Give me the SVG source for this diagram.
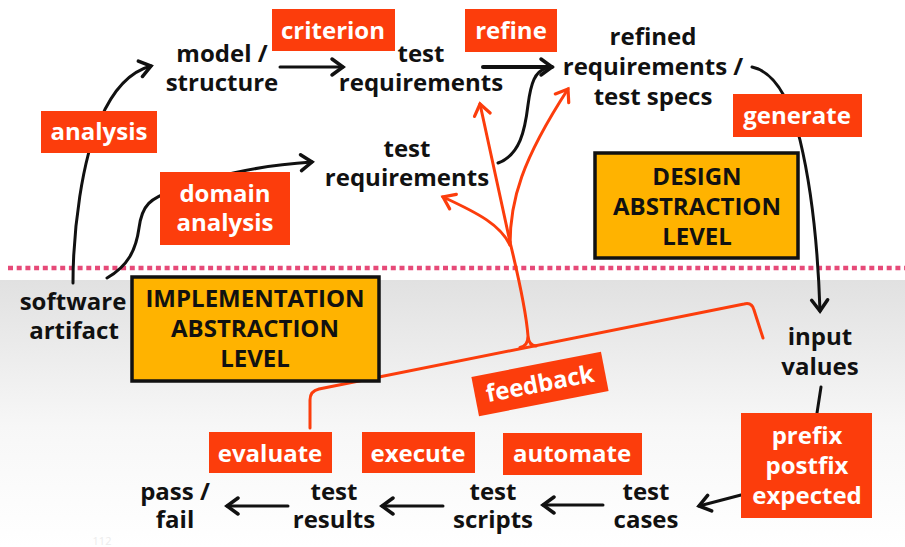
<svg xmlns="http://www.w3.org/2000/svg" width="905" height="547" viewBox="0 0 905 547">
<defs>
<linearGradient id="gray" x1="0" y1="0" x2="0" y2="1">
<stop offset="0" stop-color="#e1e1e1"/>
<stop offset="0.55" stop-color="#f7f7f7"/>
<stop offset="1" stop-color="#ffffff"/>
</linearGradient>
<marker id="ab" markerUnits="userSpaceOnUse" viewBox="-14 -11 17 22" refX="0" refY="0" markerWidth="17" markerHeight="22" orient="auto">
<path d="M-11,-8 L0,0 L-11,8" fill="none" stroke="#111" stroke-width="3.5" stroke-linecap="round"/>
</marker>
<marker id="ar" markerUnits="userSpaceOnUse" viewBox="-14 -11 17 22" refX="0" refY="0" markerWidth="17" markerHeight="22" orient="auto">
<path d="M-11,-8 L0,0 L-11,8" fill="none" stroke="#fc3d0c" stroke-width="3.2" stroke-linecap="round"/>
</marker>
</defs>
<style>
text{font-family:"Open Sans","Noto Sans","Liberation Sans",sans-serif;font-weight:bold;font-size:24px;text-anchor:middle}
.t{fill:#111}
.w{fill:#fff}
.rb{fill:#fc3d0c}
.yb{fill:#ffb300;stroke:#111;stroke-width:3.5}
.k{fill:none;stroke:#111;stroke-width:3;stroke-linecap:round}
.r{fill:none;stroke:#fc3d0c;stroke-width:3;stroke-linecap:round;stroke-linejoin:round}
</style>
<rect x="0" y="0" width="905" height="547" fill="#fff"/>
<rect x="0" y="280" width="905" height="267" fill="url(#gray)"/>
<line x1="8" y1="268" x2="905" y2="268" stroke="#e64a78" stroke-width="4.5" stroke-dasharray="5 3.7"/>
<text x="102" y="545" style="font-size:11px;fill:#ececec;font-weight:normal">112</text>

<g id="connectors">
<path class="k" d="M73,283 C73,230 82,160 100,120 C112,92 128,72 151,66" marker-end="url(#ab)"/>
<path class="k" d="M107,278 C128,266 136,250 139,228 C142,205 150,198 175,190 C210,178 250,166 312,162" marker-end="url(#ab)"/>
<path class="k" d="M280,67 L343,67" marker-end="url(#ab)"/>
<path class="k" d="M483,67 L552,67" style="stroke-width:4" marker-end="url(#ab)"/>
<path class="k" d="M498,163 C520,155 525,130 528,105 C531,82 535,72 546,68"/>
<path class="k" d="M752,67 C775,72 790,100 800,140 C812,190 818,250 820,311" marker-end="url(#ab)"/>
<path class="k" d="M821,387 L817,413"/>
<path class="k" d="M741,495 L699,506" marker-end="url(#ab)"/>
<path class="k" d="M603,505 L543,505" marker-end="url(#ab)"/>
<path class="k" d="M443,506 L382,506" marker-end="url(#ab)"/>
<path class="k" d="M288,506 L227,506" marker-end="url(#ab)"/>
<path class="r" d="M310,428 L310,400 Q310,391 319,389 L744,304 Q752,302 754,310 L763,338"/>
<path class="r" d="M520,347.5 Q528,346 528,336 C526,310 518,275 510,242 M536,346 Q529,346 528,336"/>
<path class="r" d="M510,242 L480,104" marker-end="url(#ar)"/>
<path class="r" d="M510,245 C500,225 480,214 443,197" marker-end="url(#ar)"/>
<path class="r" d="M510,245 C510,200 522,160 568,89" marker-end="url(#ar)"/>
</g>

<g id="model"><text class="t"><tspan x="222" y="62">model /</tspan><tspan x="222" y="91">structure</tspan></text></g>
<g id="test-req-1"><text class="t"><tspan x="421" y="62">test</tspan><tspan x="421" y="91">requirements</tspan></text></g>
<g id="refined"><text class="t"><tspan x="653" y="45">refined</tspan><tspan x="653" y="75">requirements /</tspan><tspan x="653" y="105">test specs</tspan></text></g>
<g id="test-req-2"><text class="t"><tspan x="407" y="157">test</tspan><tspan x="407" y="186">requirements</tspan></text></g>
<g id="software"><text class="t"><tspan x="73" y="310">software</tspan><tspan x="74" y="339">artifact</tspan></text></g>
<g id="input"><text class="t"><tspan x="820" y="345">input</tspan><tspan x="820" y="375">values</tspan></text></g>
<g id="test-cases"><text class="t"><tspan x="646" y="500">test</tspan><tspan x="646" y="528">cases</tspan></text></g>
<g id="test-scripts"><text class="t"><tspan x="493" y="500">test</tspan><tspan x="493" y="528">scripts</tspan></text></g>
<g id="test-results"><text class="t"><tspan x="334" y="500">test</tspan><tspan x="334" y="528">results</tspan></text></g>
<g id="pass-fail"><text class="t"><tspan x="175" y="500">pass /</tspan><tspan x="175" y="528">fail</tspan></text></g>

<g id="criterion"><rect class="rb" x="272" y="9" width="123" height="42"/><text class="w" x="333" y="39">criterion</text></g>
<g id="refine"><rect class="rb" x="465" y="9" width="92" height="43"/><text class="w" x="511" y="39">refine</text></g>
<g id="analysis"><rect class="rb" x="41" y="111" width="116" height="42"/><text class="w" x="99" y="140">analysis</text></g>
<g id="domain-analysis"><rect class="rb" x="160" y="172" width="130" height="73"/><text class="w"><tspan x="225" y="202">domain</tspan><tspan x="225" y="231">analysis</tspan></text></g>
<g id="generate"><rect class="rb" x="733" y="94" width="129" height="43"/><text class="w" x="797" y="124">generate</text></g>
<g id="design-level"><rect class="yb" x="595" y="153" width="203" height="105"/><text class="t"><tspan x="697" y="185">DESIGN</tspan><tspan x="697" y="215">ABSTRACTION</tspan><tspan x="697" y="245">LEVEL</tspan></text></g>
<g id="impl-level"><rect class="yb" x="132" y="277" width="247" height="104"/><text class="t"><tspan x="255" y="307">IMPLEMENTATION</tspan><tspan x="255" y="337">ABSTRACTION</tspan><tspan x="255" y="367">LEVEL</tspan></text></g>
<g id="feedback"><g transform="translate(540,384) rotate(-11)"><rect class="rb" x="-66" y="-20" width="132" height="40"/><text class="w" x="0" y="8">feedback</text></g></g>
<g id="evaluate"><rect class="rb" x="209" y="432" width="123" height="41"/><text class="w" x="270" y="462">evaluate</text></g>
<g id="execute"><rect class="rb" x="362" y="432" width="113" height="41"/><text class="w" x="418" y="462">execute</text></g>
<g id="automate"><rect class="rb" x="503" y="433" width="139" height="42"/><text class="w" x="572" y="462">automate</text></g>
<g id="prefix"><rect class="rb" x="741" y="413" width="131" height="105"/><text class="w"><tspan x="807" y="444">prefix</tspan><tspan x="807" y="474">postfix</tspan><tspan x="807" y="504">expected</tspan></text></g>
</svg>
